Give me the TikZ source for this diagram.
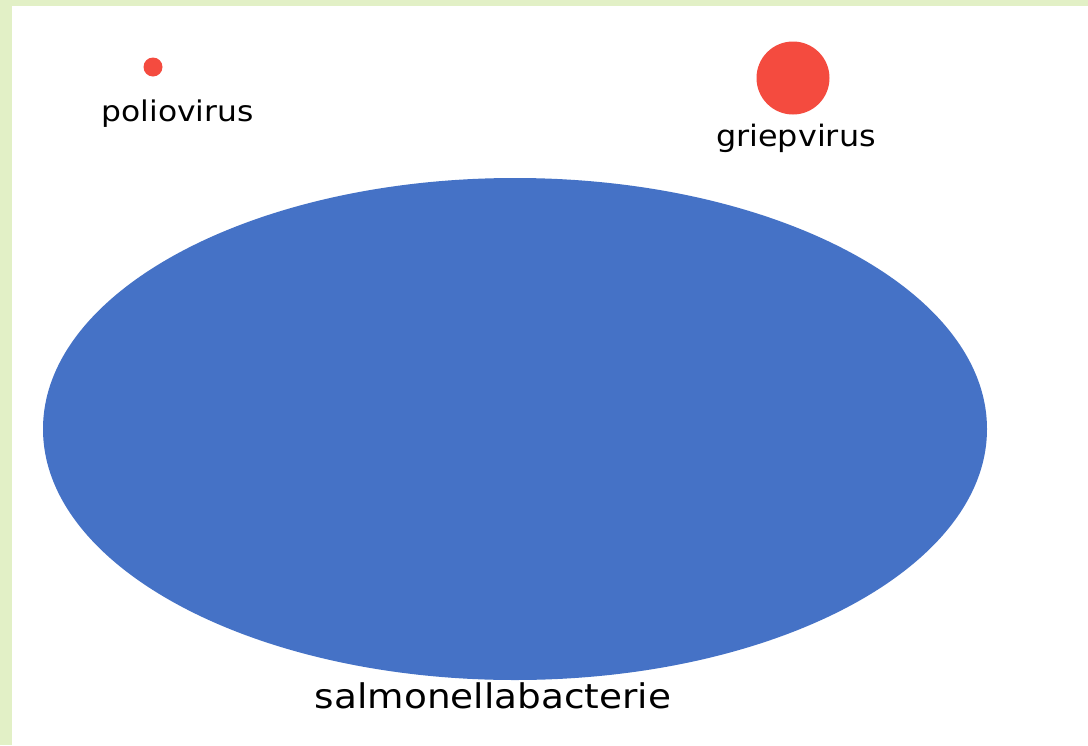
\documentclass[tikz,border=0pt]{standalone}
\usepackage{fontspec}
\setmainfont{DejaVu Sans}
\usepackage{graphicx}
\definecolor{bgGreen}{HTML}{E2F0C6}
\definecolor{cellBlue}{HTML}{4572C6}
\definecolor{virusRed}{HTML}{F44B3F}
\begin{document}
\begin{tikzpicture}[x=1pt,y=-1pt,
  lbl/.style={anchor=base,inner sep=0pt,text=black},
  virus/.style={circle,fill=virusRed,draw=none,inner sep=0pt}]
\useasboundingbox (0,0) rectangle (1088,745);
\fill[bgGreen] (0,0) rectangle (1088,745);
\fill[white] (12,6) rectangle (1088,745);
\node[virus,minimum size=19pt] (polio) at (153,67) {};
\node[lbl] (poliolbl) at (177.5,121) {\scalebox{1.1}[1]{\fontsize{28.5}{32}\selectfont poliovirus}};
\node[virus,minimum size=73pt] (griep) at (793,78) {};
\node[lbl] (grieplbl) at (796,146) {\scalebox{1.08}[1]{\fontsize{29.5}{33}\selectfont griepvirus}};
\fill[cellBlue] (515,429) ellipse [x radius=472, y radius=251];
\node[lbl] (salmlbl) at (493,708) {\scalebox{1.1}[1]{\fontsize{34}{38}\selectfont salmonellabacterie}};
\end{tikzpicture}
\end{document}
